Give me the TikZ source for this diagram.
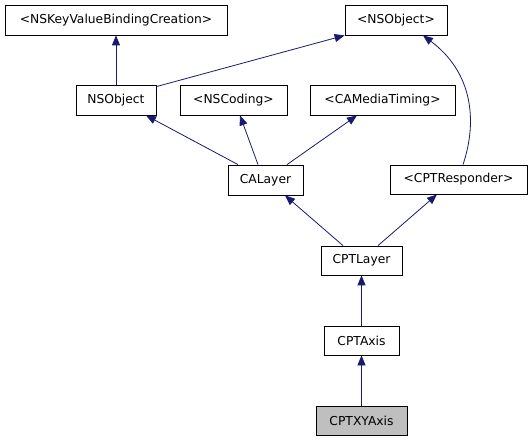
\documentclass[tikz,border=0pt]{standalone}
\usepackage{fontspec}
\setmainfont{DejaVu Sans}
\usetikzlibrary{arrows.meta}
\definecolor{edgeblue}{HTML}{191970}
\definecolor{boxgrey}{HTML}{BFBFBF}
\begin{document}
\begin{tikzpicture}[x=1pt,y=-1pt,
  cls/.style={draw=black,line width=0.8pt,fill=white,inner sep=0pt,font=\fontsize{12.3}{14}\selectfont},
  inh/.style={draw=edgeblue,line width=0.8pt,-{Triangle[length=10pt,width=8pt]}}]
\useasboundingbox (0,0) rectangle (532,443);
\node[cls,minimum width=222pt,minimum height=30pt] (kvb) at (116,20) {<NSKeyValueBindingCreation>};
\node[cls,minimum width=102pt,minimum height=30pt] (nsobjp) at (396,20) {<NSObject>};
\node[cls,minimum width=80pt,minimum height=30pt] (nsobj) at (116,100) {NSObject};
\node[cls,minimum width=107pt,minimum height=30pt] (nscoding) at (233.5,100) {<NSCoding>};
\node[cls,minimum width=145pt,minimum height=30pt] (camt) at (382.5,100) {<CAMediaTiming>};
\node[cls,minimum width=75pt,minimum height=30pt] (calayer) at (265.5,180) {CALayer};
\node[cls,minimum width=137pt,minimum height=29pt] (cptresp) at (458.5,179.5) {<CPTResponder>};
\node[cls,minimum width=81pt,minimum height=29pt] (cptlayer) at (361.5,260.5) {CPTLayer};
\node[cls,minimum width=75pt,minimum height=29pt] (cptaxis) at (361.5,340.5) {CPTAxis};
\node[cls,fill=boxgrey,minimum width=91pt,minimum height=29pt] (cptxy) at (361.5,420.5) {CPTXYAxis};
\draw[inh] (nsobj.north) -- (kvb.south);
\draw[inh] ([yshift=-2pt]nsobj.north east) -- (nsobjp.south west);
\draw[inh] ([xshift=-27.5pt]calayer.north) -- ([xshift=30pt]nsobj.south);
\draw[inh] ([xshift=-7.5pt]calayer.north) -- ([xshift=6.5pt]nscoding.south);
\draw[inh] ([xshift=21.5pt]calayer.north) -- ([xshift=-25.5pt]camt.south);
\draw[inh] ([xshift=4.5pt]cptresp.north) .. controls (478,120) and (472,72) .. ([xshift=27pt]nsobjp.south);
\draw[inh] ([xshift=-18.5pt]cptlayer.north) -- ([xshift=19.5pt]calayer.south);
\draw[inh] ([xshift=16.5pt]cptlayer.north) -- ([xshift=-21.5pt]cptresp.south);
\draw[inh] (cptaxis.north) -- (cptlayer.south);
\draw[inh] (cptxy.north) -- (cptaxis.south);
\end{tikzpicture}
\end{document}
